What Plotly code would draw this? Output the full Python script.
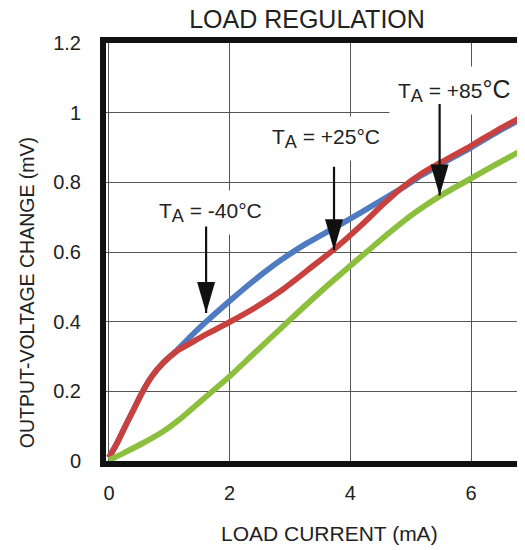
import plotly.graph_objects as go

# ---- data (x: load current mA, y: output-voltage change mV) ----
x_m40 = [0, 0.136, 0.27, 0.41, 0.545, 0.71, 0.90, 1.12, 1.39, 1.58, 1.99, 2.43, 2.86, 3.30, 3.74, 4.17, 4.61, 4.90, 5.18, 5.51, 6.01, 6.43, 6.9]
y_m40 = [0.01, 0.052, 0.10, 0.148, 0.195, 0.243, 0.282, 0.317, 0.364, 0.395, 0.458, 0.522, 0.578, 0.627, 0.670, 0.713, 0.758, 0.788, 0.82, 0.853, 0.901, 0.944, 0.988]

x_p25 = [0, 0.136, 0.27, 0.41, 0.545, 0.71, 0.90, 1.12, 1.39, 1.66, 1.99, 2.43, 2.86, 3.30, 3.74, 4.17, 4.55, 4.85, 5.18, 5.51, 6.01, 6.43, 6.9]
y_p25 = [0.01, 0.052, 0.10, 0.148, 0.195, 0.243, 0.282, 0.315, 0.342, 0.368, 0.398, 0.441, 0.49, 0.549, 0.609, 0.675, 0.738, 0.784, 0.825, 0.858, 0.906, 0.949, 0.993]

x_p85 = [0, 0.245, 0.57, 0.90, 1.23, 1.55, 2.0, 2.40, 3.03, 3.52, 4.01, 4.61, 4.85, 5.13, 5.48, 6.01, 6.43, 6.9]
y_p85 = [0.002, 0.023, 0.052, 0.085, 0.128, 0.176, 0.243, 0.308, 0.41, 0.488, 0.562, 0.65, 0.684, 0.72, 0.76, 0.812, 0.853, 0.897]

x_ticks = [0, 2, 4, 6]
y_ticks = [0, 0.2, 0.4, 0.6, 0.8, 1.0, 1.2]
y_tick_text = ["0", "0.2", "0.4", "0.6", "0.8", "1", "1.2"]

# annotation labels and arrow tips
SUB = "<sub><span style='font-size:18px'>A</span></sub>"
labels = ["T" + SUB + " = -40°C",
          "T" + SUB + " = +25°C",
          "T" + SUB + " = +85<span style='font-size:25px'>°C</span>"]
label_x = [1.675, 3.59, 5.72]
label_y = [0.714, 0.927, 1.063]
tip_x = [1.61, 3.73, 5.48]
tip_y = [0.425, 0.605, 0.762]
shaft_len = [88, 85, 93]

BLUE = "#4f7bc1"
RED = "#c9413f"
GREEN = "#8dbf3e"
FONT = "Liberation Sans, Arial, sans-serif"
TXT = "#222"

# page geometry (browser body has an 8px margin)
OFF = 8
W, H = 525 - OFF, 550 - OFF
PL, PR, PT, PB = 106, 525, 43, 461.5          # plot area in page pixels
ml, mr, mt = PL - OFF, 525 - PR, PT - OFF
mb = (550 - OFF) - (PB - OFF)
pw, ph = PR - PL, PB - PT


def paper_x(px):
    return (px - PL) / pw


def paper_y(py):
    return (PB - py) / ph


fig = go.Figure()
for xs, ys, c in [(x_m40, y_m40, BLUE), (x_p25, y_p25, RED), (x_p85, y_p85, GREEN)]:
    fig.add_trace(go.Scatter(x=xs, y=ys, mode="lines",
                             line=dict(color=c, width=5.8, shape="spline", smoothing=0.7),
                             showlegend=False, hoverinfo="skip"))

ann = []
for t, lx, ly in zip(labels, label_x, label_y):
    ann.append(dict(x=lx, y=ly, xref="x", yref="y", text=t, showarrow=False,
                    font=dict(family=FONT, size=21, color=TXT),
                    bgcolor="white", borderpad=8, xanchor="center", yanchor="middle"))
for tx, ty, L in zip(tip_x, tip_y, shaft_len):
    ann.append(dict(x=tx, y=ty, xref="x", yref="y", text="", showarrow=True,
                    ax=0, ay=-L, arrowhead=0, arrowwidth=2.2, arrowcolor="#111"))
ann.append(dict(x=paper_x(329.5), y=paper_y(534), xref="paper", yref="paper",
                text="LOAD CURRENT (mA)", showarrow=False, xanchor="center", yanchor="middle",
                font=dict(family=FONT, size=21, color=TXT)))
ann.append(dict(x=paper_x(27), y=paper_y(293.5), xref="paper", yref="paper",
                text="OUTPUT-VOLTAGE CHANGE (mV)", showarrow=False, textangle=-90,
                xanchor="center", yanchor="middle",
                font=dict(family=FONT, size=19.5, color=TXT)))

shapes = []
for tx, ty in zip(tip_x, tip_y):
    shapes.append(dict(type="path", xref="x", yref="y", xsizemode="pixel", ysizemode="pixel",
                       xanchor=tx, yanchor=ty, path="M0,0 L-9,31 L9,31 Z",
                       fillcolor="#111", line=dict(width=0), layer="above"))

fig.update_layout(
    width=W, height=H,
    margin=dict(l=ml, r=mr, t=mt, b=mb, pad=0),
    paper_bgcolor="white", plot_bgcolor="white",
    title=dict(text="LOAD REGULATION", x=(307 - OFF) / W, xanchor="center",
               y=1 - (19 - OFF) / H, yanchor="middle",
               font=dict(family=FONT, size=25, color=TXT)),
    annotations=ann,
    shapes=shapes,
)

fig.update_xaxes(range=[-0.049, 6.895], tickvals=x_ticks, ticktext=[str(v) for v in x_ticks],
                 showgrid=True, gridcolor="#555", gridwidth=1.2, zeroline=False,
                 showline=True, linecolor="#111", linewidth=6, mirror=True, layer="below traces",
                 ticks="", ticklabelstandoff=9, automargin=False,
                 tickfont=dict(family=FONT, size=20, color=TXT))
fig.update_yaxes(range=[0, 1.2], tickvals=y_ticks, ticktext=y_tick_text,
                 showgrid=True, gridcolor="#555", gridwidth=1.2, zeroline=False,
                 showline=True, linecolor="#111", linewidth=6, mirror=False, layer="below traces",
                 ticks="", ticklabelstandoff=15, automargin=False,
                 tickfont=dict(family=FONT, size=20, color=TXT))

fig.write_html("out.html")
